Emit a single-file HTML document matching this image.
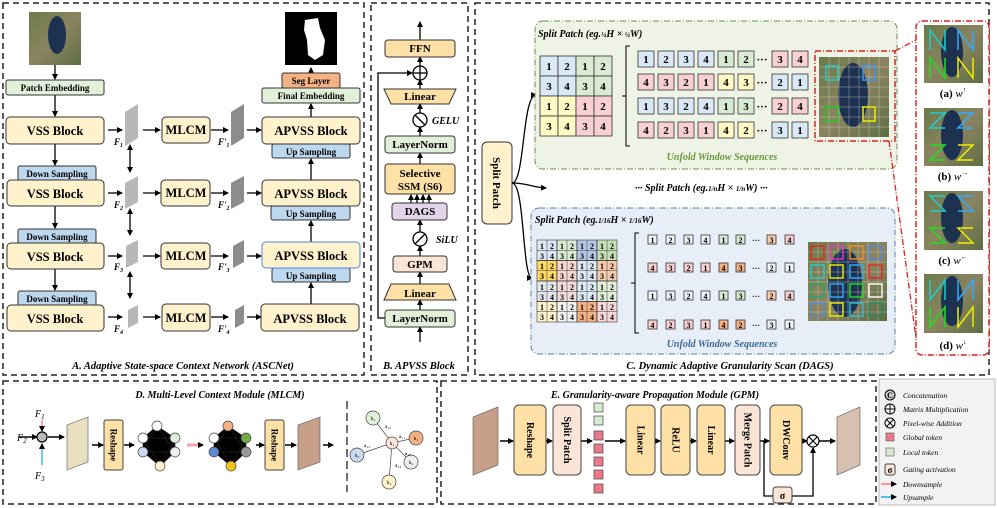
<!DOCTYPE html>
<html><head><meta charset="utf-8"><style>
html,body{margin:0;padding:0;background:#fff;}
svg{display:block;}
text{font-family:"Liberation Serif",serif;}
.b{font-weight:bold;}
.i{font-style:italic;font-weight:bold;}
</style></head><body>
<svg width="997" height="508" viewBox="0 0 997 508" xmlns="http://www.w3.org/2000/svg">
<defs>
<marker id="ah" markerWidth="6" markerHeight="6" refX="5" refY="3" orient="auto" markerUnits="userSpaceOnUse"><path d="M0,0 L6,3 L0,6 z" fill="#000"/></marker>
<marker id="ahs" markerWidth="6" markerHeight="6" refX="1" refY="3" orient="auto-start-reverse" markerUnits="userSpaceOnUse"><path d="M0,0 L6,3 L0,6 z" fill="#000"/></marker>
<linearGradient id="sat" x1="0" y1="0" x2="1" y2="1"><stop offset="0" stop-color="#6b7a4a"/><stop offset="0.5" stop-color="#8a8460"/><stop offset="1" stop-color="#5e6e42"/></linearGradient>
</defs>

<!-- Panel borders -->
<g fill="none" stroke="#222" stroke-width="1.5" stroke-dasharray="6,4">
<rect x="3" y="3" width="361" height="372"/>
<rect x="371" y="3" width="97" height="372"/>
<rect x="475" y="3" width="514" height="372"/>
<rect x="3" y="381" width="434" height="123"/>
<rect x="441" y="381" width="435" height="123"/>
</g>
<rect x="879" y="379" width="116" height="126" fill="#f2f2f2" stroke="#bbb"/>

<!-- ===== Panel A ===== -->
<rect x="29" y="12" width="52" height="53" fill="url(#sat)"/>
<ellipse cx="57" cy="35" rx="9" ry="19" fill="#1c3250"/>
<rect x="285" y="12" width="52" height="53" fill="#000"/>
<path d="M305,20 L318,18 L320,28 L325,40 L323,55 L315,60 L308,55 L307,40 L304,30 Z" fill="#fff"/>
<g stroke="#000" stroke-width="1.3" fill="none" marker-end="url(#ah)">
<line x1="55" y1="65" x2="55" y2="79"/>
<line x1="55" y1="95" x2="55" y2="116"/>
<line x1="55" y1="144" x2="55" y2="165"/>
<line x1="55" y1="206" x2="55" y2="228"/>
<line x1="55" y1="269" x2="55" y2="290"/>
<line x1="311" y1="88" x2="311" y2="68"/>
<line x1="311" y1="117" x2="311" y2="104"/>
<line x1="311" y1="180" x2="311" y2="159"/>
<line x1="311" y1="242" x2="311" y2="221"/>
<line x1="311" y1="304" x2="311" y2="283"/>
<line x1="108" y1="130" x2="122" y2="130"/>
<line x1="108" y1="193" x2="122" y2="193"/>
<line x1="108" y1="256" x2="122" y2="256"/>
<line x1="108" y1="317" x2="122" y2="317"/>
<line x1="143" y1="130" x2="160" y2="130"/>
<line x1="143" y1="193" x2="160" y2="193"/>
<line x1="143" y1="256" x2="160" y2="256"/>
<line x1="143" y1="317" x2="160" y2="317"/>
<line x1="211" y1="130" x2="228" y2="130"/>
<line x1="211" y1="193" x2="228" y2="193"/>
<line x1="211" y1="256" x2="228" y2="256"/>
<line x1="211" y1="317" x2="228" y2="317"/>
<line x1="247" y1="130" x2="261" y2="130"/>
<line x1="247" y1="193" x2="261" y2="193"/>
<line x1="247" y1="256" x2="261" y2="256"/>
<line x1="247" y1="317" x2="261" y2="317"/>
</g>
<g stroke="#000" stroke-width="1.3" marker-end="url(#ah)" marker-start="url(#ahs)">
<line x1="130" y1="149" x2="130" y2="172"/>
<line x1="130" y1="213" x2="130" y2="235"/>
<line x1="130" y1="276" x2="130" y2="298"/>
</g>
<!-- feature maps -->
<g fill="#b8b8b8">
<polygon points="125,112 138,104 138,138 125,146"/>
<polygon points="125,183 138,176 138,202 125,209"/>
<polygon points="126,246 138,240 138,262 126,268"/>
<polygon points="128,310 138,305 138,323 128,328"/>
</g>
<g fill="#8c8c8c">
<polygon points="231,112 244,104 244,138 231,146"/>
<polygon points="231,183 244,176 244,202 231,209"/>
<polygon points="233,246 244,240 244,262 233,268"/>
<polygon points="235,310 244,305 244,323 235,328"/>
</g>
<g class="i" font-size="9" font-style="italic">
<text x="114" y="145">F<tspan font-size="6" dy="2">1</tspan></text>
<text x="114" y="208">F<tspan font-size="6" dy="2">2</tspan></text>
<text x="114" y="270">F<tspan font-size="6" dy="2">3</tspan></text>
<text x="114" y="332">F<tspan font-size="6" dy="2">4</tspan></text>
<text x="218" y="145">F'<tspan font-size="6" dy="2">1</tspan></text>
<text x="218" y="208">F'<tspan font-size="6" dy="2">2</tspan></text>
<text x="218" y="270">F'<tspan font-size="6" dy="2">3</tspan></text>
<text x="218" y="332">F'<tspan font-size="6" dy="2">4</tspan></text>
</g>
<g stroke="#333" stroke-width="1">
<rect x="6" y="80" width="98" height="15" rx="2" fill="#e2efd9"/>
<rect x="18" y="166" width="78" height="15" rx="2" fill="#bdd7ee"/>
<rect x="18" y="229" width="78" height="15" rx="2" fill="#bdd7ee"/>
<rect x="18" y="291" width="78" height="15" rx="2" fill="#bdd7ee"/>
<rect x="6" y="117" width="98" height="27" rx="4" fill="#fff2cc"/>
<rect x="7" y="180" width="97" height="26" rx="4" fill="#fff2cc"/>
<rect x="7" y="243" width="97" height="26" rx="4" fill="#fff2cc"/>
<rect x="7" y="305" width="97" height="26" rx="4" fill="#fff2cc"/>
<rect x="162" y="117" width="48" height="26" rx="4" fill="#fff2cc"/>
<rect x="161" y="180" width="49" height="26" rx="4" fill="#fff2cc"/>
<rect x="161" y="243" width="49" height="26" rx="4" fill="#fff2cc"/>
<rect x="162" y="304" width="48" height="27" rx="4" fill="#fff2cc"/>
<rect x="272" y="144" width="78" height="14" rx="2" fill="#bdd7ee"/>
<rect x="271" y="206" width="79" height="14" rx="2" fill="#bdd7ee"/>
<rect x="272" y="268" width="78" height="14" rx="2" fill="#bdd7ee"/>
<rect x="262" y="117" width="98" height="27" rx="4" fill="#fff2cc"/>
<rect x="262" y="180" width="98" height="26" rx="4" fill="#fff2cc"/>
<rect x="262" y="242" width="98" height="26" rx="4" fill="#fff2cc" stroke="#4a86e8"/>
<rect x="261" y="304" width="98" height="27" rx="4" fill="#fff2cc"/>
<rect x="262" y="88" width="98" height="15" rx="2" fill="#e2efd9"/>
<rect x="282" y="73" width="58" height="15" rx="2" fill="#f4b183"/>
</g>
<g class="b" text-anchor="middle" font-size="9">
<text x="55" y="91">Patch Embedding</text>
<text x="57" y="177">Down Sampling</text>
<text x="57" y="240">Down Sampling</text>
<text x="57" y="302">Down Sampling</text>
<text x="311" y="155">Up Sampling</text>
<text x="311" y="217">Up Sampling</text>
<text x="311" y="279">Up Sampling</text>
<text x="311" y="99">Final Embedding</text>
<text x="311" y="84">Seg Layer</text>
</g>
<g class="b" text-anchor="middle" font-size="12.5">
<text x="55" y="135">VSS Block</text>
<text x="55" y="198">VSS Block</text>
<text x="55" y="261">VSS Block</text>
<text x="55" y="323">VSS Block</text>
<text x="186" y="134">MLCM</text>
<text x="186" y="197">MLCM</text>
<text x="186" y="260">MLCM</text>
<text x="186" y="322">MLCM</text>
<text x="311" y="135">APVSS Block</text>
<text x="311" y="198">APVSS Block</text>
<text x="311" y="260">APVSS Block</text>
<text x="310" y="323">APVSS Block</text>
</g>
<text x="183" y="369" class="i" font-size="10.5" text-anchor="middle">A. Adaptive State-space Context Network (ASCNet)</text>

<!-- ===== Panel B ===== -->
<g stroke="#000" stroke-width="1.3" fill="none" marker-end="url(#ah)">
<line x1="420" y1="40" x2="420" y2="22"/>
<line x1="420" y1="66" x2="420" y2="57"/>
<line x1="420" y1="89" x2="420" y2="80"/>
<line x1="420" y1="113" x2="420" y2="104"/>
<line x1="420" y1="136" x2="420" y2="127"/>
<line x1="420" y1="164" x2="420" y2="153"/>
<line x1="411" y1="203" x2="411" y2="195"/>
<line x1="417" y1="203" x2="417" y2="195"/>
<line x1="423" y1="203" x2="423" y2="195"/>
<line x1="429" y1="203" x2="429" y2="195"/>
<line x1="420" y1="232" x2="420" y2="220"/>
<line x1="420" y1="256" x2="420" y2="246"/>
<line x1="420" y1="284" x2="420" y2="272"/>
<line x1="420" y1="310" x2="420" y2="300"/>
<line x1="420" y1="342" x2="420" y2="327"/>
<polyline points="385,318 378,318 378,73 412,73"/>
</g>
<g stroke="#333" stroke-width="1">
<rect x="385" y="40" width="70" height="17" rx="3" fill="#ffe0a6"/>
<polygon points="384,89 456,89 449,104 391,104" fill="#ffe0a6"/>
<rect x="385" y="136" width="70" height="17" rx="3" fill="#e2efd9"/>
<rect x="385" y="164" width="70" height="30" rx="3" fill="#ffe0a6"/>
<rect x="392" y="203" width="55" height="17" rx="3" fill="#e1d5e7"/>
<rect x="393" y="256" width="54" height="16" rx="3" fill="#fbe5d6"/>
<polygon points="391,284 449,284 456,300 384,300" fill="#ffe0a6"/>
<rect x="385" y="310" width="70" height="17" rx="3" fill="#e2efd9"/>
</g>
<g stroke="#000" stroke-width="1.3" fill="#fff">
<circle cx="420" cy="73" r="7"/>
<circle cx="420" cy="120" r="7"/>
<circle cx="420" cy="239" r="7"/>
</g>
<g stroke="#000" stroke-width="1.3">
<line x1="413" y1="73" x2="427" y2="73"/><line x1="420" y1="66" x2="420" y2="80"/>
<line x1="415" y1="115" x2="425" y2="125"/>
<line x1="425" y1="234" x2="415" y2="244"/>
</g>
<g class="b" text-anchor="middle" font-size="11">
<text x="420" y="52">FFN</text>
<text x="420" y="100">Linear</text>
<text x="420" y="148">LayerNorm</text>
<text x="420" y="177">Selective</text>
<text x="420" y="190">SSM (S6)</text>
<text x="420" y="215">DAGS</text>
<text x="420" y="268">GPM</text>
<text x="420" y="297">Linear</text>
<text x="420" y="322">LayerNorm</text>
</g>
<text x="432" y="124" class="i" font-size="10">GELU</text>
<text x="436" y="243" class="i" font-size="10">SiLU</text>
<text x="419" y="369" class="i" font-size="10.5" text-anchor="middle">B. APVSS Block</text>

<!-- ===== Panel C ===== -->
<rect x="482" y="142" width="30" height="82" rx="5" fill="#fff2cc" stroke="#333"/>
<text x="497" y="183" class="b" font-size="11" text-anchor="middle" transform="rotate(90 497 183)" dy="4">Split Patch</text>
<g stroke="#000" stroke-width="1.3" fill="none" marker-end="url(#ah)">
<path d="M512,183 C525,183 522,95 536,95"/>
<path d="M512,183 C525,183 522,278 532,278"/>
<path d="M512,183 C528,183 530,187 546,188"/>
</g>
<rect x="535" y="21" width="362" height="148" rx="8" fill="#eef3e6" stroke="#6a8f4a" stroke-dasharray="6,2,1,2"/>
<rect x="531" y="208" width="364" height="146" rx="8" fill="#e8eef8" stroke="#5a7faa" stroke-dasharray="6,2,1,2"/>
<text x="538" y="37" class="i" font-size="10">Split Patch (eg.<tspan font-size="7">¼</tspan>H × <tspan font-size="7">¼</tspan>W)</text>
<text x="535" y="223" class="i" font-size="10">Split Patch (eg.<tspan font-size="7">1/16</tspan>H × <tspan font-size="7">1/16</tspan>W)</text>
<text x="635" y="191" class="i" font-size="10">··· Split Patch (eg.<tspan font-size="7">1/n</tspan>H × <tspan font-size="7">1/n</tspan>W) ···</text>
<text x="722" y="160" class="i" font-size="10" fill="#6a9a3a" text-anchor="middle">Unfold Window Sequences</text>
<text x="722" y="347" class="i" font-size="10" fill="#3a6a9a" text-anchor="middle">Unfold Window Sequences</text>

<!-- top 4x4 grid -->
<g stroke="#333" stroke-width="0.8">
<rect x="540" y="56" width="18" height="20" fill="#dae8f5"/><rect x="558" y="56" width="18" height="20" fill="#dae8f5"/><rect x="576" y="56" width="18" height="20" fill="#d9ead3"/><rect x="594" y="56" width="18" height="20" fill="#d9ead3"/>
<rect x="540" y="76" width="18" height="20" fill="#dae8f5"/><rect x="558" y="76" width="18" height="20" fill="#dae8f5"/><rect x="576" y="76" width="18" height="20" fill="#d9ead3"/><rect x="594" y="76" width="18" height="20" fill="#d9ead3"/>
<rect x="540" y="96" width="18" height="20" fill="#fff9c4"/><rect x="558" y="96" width="18" height="20" fill="#fff9c4"/><rect x="576" y="96" width="18" height="20" fill="#f8d0d0"/><rect x="594" y="96" width="18" height="20" fill="#f8d0d0"/>
<rect x="540" y="116" width="18" height="20" fill="#fff9c4"/><rect x="558" y="116" width="18" height="20" fill="#fff9c4"/><rect x="576" y="116" width="18" height="20" fill="#f8d0d0"/><rect x="594" y="116" width="18" height="20" fill="#f8d0d0"/>
</g>
<g class="b" font-size="11" text-anchor="middle">
<text x="549" y="70">1</text><text x="567" y="70">2</text><text x="585" y="70">1</text><text x="603" y="70">2</text>
<text x="549" y="90">3</text><text x="567" y="90">4</text><text x="585" y="90">3</text><text x="603" y="90">4</text>
<text x="549" y="110">1</text><text x="567" y="110">2</text><text x="585" y="110">1</text><text x="603" y="110">2</text>
<text x="549" y="130">3</text><text x="567" y="130">4</text><text x="585" y="130">3</text><text x="603" y="130">4</text>
</g>
<path d="M630,46 L626,46 L626,146 L630,146 M626,96 L622,96" stroke="#000" fill="none"/>
<path d="M639,233 L635,233 L635,333 L639,333 M635,283 L631,283" stroke="#000" fill="none"/>

<!-- top seq rows -->
<g stroke="#333" stroke-width="0.8">
<rect x="638" y="51" width="16" height="16" fill="#dae8f5"/><rect x="658" y="51" width="16" height="16" fill="#dae8f5"/><rect x="678" y="51" width="16" height="16" fill="#dae8f5"/><rect x="698" y="51" width="16" height="16" fill="#dae8f5"/><rect x="718" y="51" width="16" height="16" fill="#d9ead3"/><rect x="738" y="51" width="16" height="16" fill="#d9ead3"/><rect x="772" y="51" width="16" height="16" fill="#f8d0d0"/><rect x="792" y="51" width="16" height="16" fill="#f8d0d0"/>
<rect x="638" y="74" width="16" height="16" fill="#f8d0d0"/><rect x="658" y="74" width="16" height="16" fill="#f8d0d0"/><rect x="678" y="74" width="16" height="16" fill="#f8d0d0"/><rect x="698" y="74" width="16" height="16" fill="#f8d0d0"/><rect x="718" y="74" width="16" height="16" fill="#fff9c4"/><rect x="738" y="74" width="16" height="16" fill="#fff9c4"/><rect x="772" y="74" width="16" height="16" fill="#dae8f5"/><rect x="792" y="74" width="16" height="16" fill="#dae8f5"/>
<rect x="638" y="98" width="16" height="16" fill="#dae8f5"/><rect x="658" y="98" width="16" height="16" fill="#dae8f5"/><rect x="678" y="98" width="16" height="16" fill="#dae8f5"/><rect x="698" y="98" width="16" height="16" fill="#dae8f5"/><rect x="718" y="98" width="16" height="16" fill="#d9ead3"/><rect x="738" y="98" width="16" height="16" fill="#d9ead3"/><rect x="772" y="98" width="16" height="16" fill="#f8d0d0"/><rect x="792" y="98" width="16" height="16" fill="#f8d0d0"/>
<rect x="638" y="122" width="16" height="16" fill="#f8d0d0"/><rect x="658" y="122" width="16" height="16" fill="#f8d0d0"/><rect x="678" y="122" width="16" height="16" fill="#f8d0d0"/><rect x="698" y="122" width="16" height="16" fill="#f8d0d0"/><rect x="718" y="122" width="16" height="16" fill="#fff9c4"/><rect x="738" y="122" width="16" height="16" fill="#fff9c4"/><rect x="772" y="122" width="16" height="16" fill="#dae8f5"/><rect x="792" y="122" width="16" height="16" fill="#dae8f5"/>
</g>
<g class="b" font-size="11" text-anchor="middle">
<text x="646" y="63">1</text><text x="666" y="63">2</text><text x="686" y="63">3</text><text x="706" y="63">4</text><text x="726" y="63">1</text><text x="746" y="63">2</text><text x="762" y="63">···</text><text x="780" y="63">3</text><text x="800" y="63">4</text>
<text x="646" y="86">4</text><text x="666" y="86">3</text><text x="686" y="86">2</text><text x="706" y="86">1</text><text x="726" y="86">4</text><text x="746" y="86">3</text><text x="762" y="86">···</text><text x="780" y="86">2</text><text x="800" y="86">1</text>
<text x="646" y="110">1</text><text x="666" y="110">3</text><text x="686" y="110">2</text><text x="706" y="110">4</text><text x="726" y="110">1</text><text x="746" y="110">3</text><text x="762" y="110">···</text><text x="780" y="110">2</text><text x="800" y="110">4</text>
<text x="646" y="134">4</text><text x="666" y="134">2</text><text x="686" y="134">3</text><text x="706" y="134">1</text><text x="726" y="134">4</text><text x="746" y="134">2</text><text x="762" y="134">···</text><text x="780" y="134">3</text><text x="800" y="134">1</text>
</g>

<!-- bottom 8x8 grid -->
<g stroke="#333" stroke-width="0.6">
<rect x="537" y="240" width="20" height="20.5" fill="#dce9f5"/><rect x="557" y="240" width="20" height="20.5" fill="#d9ead3"/><rect x="577" y="240" width="20" height="20.5" fill="#b4c7e7"/><rect x="597" y="240" width="20" height="20.5" fill="#c5e0b4"/>
<rect x="537" y="260.5" width="20" height="20.5" fill="#ffd966"/><rect x="557" y="260.5" width="20" height="20.5" fill="#f8d7d0"/><rect x="577" y="260.5" width="20" height="20.5" fill="#dce9f5"/><rect x="597" y="260.5" width="20" height="20.5" fill="#f8cbad"/>
<rect x="537" y="281" width="20" height="20.5" fill="#e4e8ee"/><rect x="557" y="281" width="20" height="20.5" fill="#f2dcdb"/><rect x="577" y="281" width="20" height="20.5" fill="#ddebf7"/><rect x="597" y="281" width="20" height="20.5" fill="#e2efd9"/>
<rect x="537" y="301.5" width="20" height="20.5" fill="#fff2cc"/><rect x="557" y="301.5" width="20" height="20.5" fill="#f2f2f2"/><rect x="577" y="301.5" width="20" height="20.5" fill="#f4b183"/><rect x="597" y="301.5" width="20" height="20.5" fill="#f8d7da"/>
</g>
<g stroke="#333" stroke-width="0.5">
<path d="M547,240V322M557,240V322M567,240V322M577,240V322M587,240V322M597,240V322M607,240V322M537,250.25H617M537,260.5H617M537,270.75H617M537,281H617M537,291.25H617M537,301.5H617M537,311.75H617"/>
</g>
<g class="b" font-size="8" text-anchor="middle">
<text x="542" y="249">1</text><text x="552" y="249">2</text><text x="562" y="249">1</text><text x="572" y="249">2</text><text x="582" y="249">1</text><text x="592" y="249">2</text><text x="602" y="249">1</text><text x="612" y="249">2</text>
<text x="542" y="259">3</text><text x="552" y="259">4</text><text x="562" y="259">3</text><text x="572" y="259">4</text><text x="582" y="259">3</text><text x="592" y="259">4</text><text x="602" y="259">3</text><text x="612" y="259">4</text>
<text x="542" y="269">1</text><text x="552" y="269">2</text><text x="562" y="269">1</text><text x="572" y="269">2</text><text x="582" y="269">1</text><text x="592" y="269">2</text><text x="602" y="269">1</text><text x="612" y="269">2</text>
<text x="542" y="279">3</text><text x="552" y="279">4</text><text x="562" y="279">3</text><text x="572" y="279">4</text><text x="582" y="279">3</text><text x="592" y="279">4</text><text x="602" y="279">3</text><text x="612" y="279">4</text>
<text x="542" y="290">1</text><text x="552" y="290">2</text><text x="562" y="290">1</text><text x="572" y="290">2</text><text x="582" y="290">1</text><text x="592" y="290">2</text><text x="602" y="290">1</text><text x="612" y="290">2</text>
<text x="542" y="300">3</text><text x="552" y="300">4</text><text x="562" y="300">3</text><text x="572" y="300">4</text><text x="582" y="300">3</text><text x="592" y="300">4</text><text x="602" y="300">3</text><text x="612" y="300">4</text>
<text x="542" y="310">1</text><text x="552" y="310">2</text><text x="562" y="310">1</text><text x="572" y="310">2</text><text x="582" y="310">1</text><text x="592" y="310">2</text><text x="602" y="310">1</text><text x="612" y="310">2</text>
<text x="542" y="320">3</text><text x="552" y="320">4</text><text x="562" y="320">3</text><text x="572" y="320">4</text><text x="582" y="320">3</text><text x="592" y="320">4</text><text x="602" y="320">3</text><text x="612" y="320">4</text>
</g>

<!-- bottom seq rows -->
<g stroke="#333" stroke-width="0.8">
<rect x="648" y="235" width="9" height="9" fill="#eef3f8"/><rect x="666" y="235" width="9" height="9" fill="#eef3f8"/><rect x="684" y="235" width="9" height="9" fill="#eef3f8"/><rect x="701" y="235" width="9" height="9" fill="#eef3f8"/><rect x="719" y="235" width="9" height="9" fill="#d9ead3"/><rect x="736" y="235" width="9" height="9" fill="#d9ead3"/><rect x="767" y="235" width="9" height="9" fill="#f8cbad"/><rect x="785" y="235" width="9" height="9" fill="#f8d0d0"/>
<rect x="648" y="263" width="9" height="9" fill="#f8d0d0"/><rect x="666" y="263" width="9" height="9" fill="#f8d0d0"/><rect x="684" y="263" width="9" height="9" fill="#f8d0d0"/><rect x="701" y="263" width="9" height="9" fill="#f8d0d0"/><rect x="719" y="263" width="9" height="9" fill="#f4b183"/><rect x="736" y="263" width="9" height="9" fill="#f4b183"/><rect x="767" y="263" width="9" height="9" fill="#eef3f8"/><rect x="785" y="263" width="9" height="9" fill="#eef3f8"/>
<rect x="648" y="291" width="9" height="9" fill="#eef3f8"/><rect x="666" y="291" width="9" height="9" fill="#eef3f8"/><rect x="684" y="291" width="9" height="9" fill="#eef3f8"/><rect x="701" y="291" width="9" height="9" fill="#eef3f8"/><rect x="719" y="291" width="9" height="9" fill="#d9ead3"/><rect x="736" y="291" width="9" height="9" fill="#d9ead3"/><rect x="767" y="291" width="9" height="9" fill="#f8cbad"/><rect x="785" y="291" width="9" height="9" fill="#f8d0d0"/>
<rect x="648" y="320" width="9" height="9" fill="#f8d0d0"/><rect x="666" y="320" width="9" height="9" fill="#f8d0d0"/><rect x="684" y="320" width="9" height="9" fill="#f8d0d0"/><rect x="701" y="320" width="9" height="9" fill="#f8d0d0"/><rect x="719" y="320" width="9" height="9" fill="#f4b183"/><rect x="736" y="320" width="9" height="9" fill="#f4b183"/><rect x="767" y="320" width="9" height="9" fill="#eef3f8"/><rect x="785" y="320" width="9" height="9" fill="#eef3f8"/>
</g>
<g class="b" font-size="8" text-anchor="middle">
<text x="652.5" y="243">1</text><text x="670.5" y="243">2</text><text x="688.5" y="243">3</text><text x="705.5" y="243">4</text><text x="723.5" y="243">1</text><text x="740.5" y="243">2</text><text x="756" y="243">···</text><text x="771.5" y="243">3</text><text x="789.5" y="243">4</text>
<text x="652.5" y="271">4</text><text x="670.5" y="271">3</text><text x="688.5" y="271">2</text><text x="705.5" y="271">1</text><text x="723.5" y="271">4</text><text x="740.5" y="271">3</text><text x="756" y="271">···</text><text x="771.5" y="271">2</text><text x="789.5" y="271">1</text>
<text x="652.5" y="299">1</text><text x="670.5" y="299">3</text><text x="688.5" y="299">2</text><text x="705.5" y="299">4</text><text x="723.5" y="299">1</text><text x="740.5" y="299">3</text><text x="756" y="299">···</text><text x="771.5" y="299">2</text><text x="789.5" y="299">4</text>
<text x="652.5" y="328">4</text><text x="670.5" y="328">2</text><text x="688.5" y="328">3</text><text x="705.5" y="328">1</text><text x="723.5" y="328">4</text><text x="740.5" y="328">2</text><text x="756" y="328">···</text><text x="771.5" y="328">3</text><text x="789.5" y="328">1</text>
</g>

<!-- satellite images in C -->
<rect x="819" y="57" width="70" height="80" fill="url(#sat)"/>
<ellipse cx="853" cy="95" rx="15" ry="32" fill="#1c3250"/>
<g stroke="#ddd" stroke-width="0.5" opacity="0.7"><path d="M829,57V137M839,57V137M849,57V137M859,57V137M869,57V137M879,57V137M819,67H889M819,77H889M819,87H889M819,97H889M819,107H889M819,117H889M819,127H889"/></g>
<rect x="826" y="66" width="12" height="14" fill="none" stroke="#2cc" stroke-width="1.5"/>
<rect x="863" y="66" width="12" height="14" fill="none" stroke="#39f" stroke-width="1.5"/>
<rect x="826" y="107" width="12" height="14" fill="none" stroke="#2c2" stroke-width="1.5"/>
<rect x="863" y="107" width="12" height="14" fill="none" stroke="#ee0" stroke-width="1.5"/>
<rect x="815" y="51" width="80" height="90" fill="none" stroke="#d22" stroke-width="1.5" stroke-dasharray="6,2,1,2"/>

<rect x="808" y="242" width="79" height="79" fill="url(#sat)"/>
<ellipse cx="845" cy="283" rx="17" ry="34" fill="#1c3250"/>
<g stroke="#ddd" stroke-width="0.5" opacity="0.7"><path d="M818,242V321M828,242V321M838,242V321M848,242V321M858,242V321M868,242V321M878,242V321M808,252H887M808,262H887M808,272H887M808,282H887M808,292H887M808,302H887M808,312H887"/></g>
<g fill="none" stroke-width="1.4">
<rect x="811" y="246" width="13" height="13" stroke="#e22"/><rect x="830" y="246" width="13" height="13" stroke="#e3c"/><rect x="850" y="246" width="13" height="13" stroke="#f82"/><rect x="869" y="246" width="13" height="13" stroke="#58d"/>
<rect x="811" y="265" width="13" height="13" stroke="#2cc"/><rect x="830" y="265" width="13" height="13" stroke="#ee0"/><rect x="850" y="265" width="13" height="13" stroke="#3af"/><rect x="869" y="265" width="13" height="13" stroke="#e22"/>
<rect x="811" y="284" width="13" height="13" stroke="#2a6"/><rect x="830" y="284" width="13" height="13" stroke="#3af"/><rect x="850" y="284" width="13" height="13" stroke="#2d2"/><rect x="869" y="284" width="13" height="13" stroke="#fff"/>
<rect x="811" y="303" width="13" height="13" stroke="#58d"/><rect x="830" y="303" width="13" height="13" stroke="#ee0"/><rect x="850" y="303" width="13" height="13" stroke="#3bd"/><rect x="869" y="303" width="13" height="13" stroke="#286"/>
</g>

<!-- red callout -->
<rect x="916" y="21" width="73" height="334" rx="6" fill="#fff" stroke="#d22" stroke-width="1.5" stroke-dasharray="6,2,1,2"/>
<g stroke="#d22" stroke-width="1.3" stroke-dasharray="6,2,1,2" fill="none">
<line x1="895" y1="51" x2="916" y2="40"/>
<line x1="889" y1="141" x2="916" y2="338"/>
</g>
<g>
<rect x="924" y="25" width="59" height="58" fill="url(#sat)"/><ellipse cx="952" cy="52" rx="11" ry="25" fill="#1c3250"/>
<rect x="924" y="108" width="59" height="58" fill="url(#sat)"/><ellipse cx="952" cy="135" rx="11" ry="25" fill="#1c3250"/>
<rect x="924" y="191" width="59" height="59" fill="url(#sat)"/><ellipse cx="952" cy="218" rx="11" ry="25" fill="#1c3250"/>
<rect x="924" y="274" width="59" height="59" fill="url(#sat)"/><ellipse cx="952" cy="301" rx="11" ry="25" fill="#1c3250"/>
</g>
<g fill="none" stroke-width="1.5">
<path d="M930,50 V30 L945,50 V30" stroke="#2cc"/><path d="M958,50 V30 L973,50 V30" stroke="#3af"/>
<path d="M930,78 V58 L945,78 V58" stroke="#2d2"/><path d="M958,78 V58 L973,78 V58" stroke="#ee0"/>
<path d="M930,113 H945 L930,128 H945" stroke="#2cc"/><path d="M958,113 H973 L958,128 H973" stroke="#3af"/>
<path d="M930,145 H945 L930,160 H945" stroke="#2d2"/><path d="M958,145 H973 L958,160 H973" stroke="#ee0"/>
<path d="M945,196 H930 L945,211 H930" stroke="#2cc"/><path d="M973,196 H958 L973,211 H958" stroke="#3af"/>
<path d="M945,228 H930 L945,243 H930" stroke="#2d2"/><path d="M973,228 H958 L973,243 H958" stroke="#ee0"/>
<path d="M930,280 V300 L945,280 V300" stroke="#2cc"/><path d="M958,280 V300 L973,280 V300" stroke="#3af"/>
<path d="M930,307 V327 L945,307 V327" stroke="#2d2"/><path d="M958,307 V327 L973,307 V327" stroke="#ee0"/>
</g>
<g class="b" font-size="11" text-anchor="middle">
<text x="953" y="97">(a) <tspan font-style="italic" font-weight="normal">w</tspan><tspan font-size="7" dy="-5">↑</tspan></text>
<text x="953" y="180">(b) <tspan font-style="italic" font-weight="normal">w</tspan><tspan font-size="7" dy="-5">→</tspan></text>
<text x="953" y="264">(c) <tspan font-style="italic" font-weight="normal">w</tspan><tspan font-size="7" dy="-5">←</tspan></text>
<text x="953" y="349">(d) <tspan font-style="italic" font-weight="normal">w</tspan><tspan font-size="7" dy="-5">↓</tspan></text>
</g>
<text x="730" y="369" class="i" font-size="10.5" text-anchor="middle">C. Dynamic Adaptive Granularity Scan (DAGS)</text>

<!-- ===== Panel D ===== -->
<text x="220" y="398" class="i" font-size="10" text-anchor="middle">D. Multi-Level Context Module (MLCM)</text>
<g font-style="italic" font-size="10">
<text x="35" y="417">F<tspan font-size="7" dy="2">1</tspan></text>
<text x="17" y="441">F<tspan font-size="7" dy="2">2</tspan></text>
<text x="35" y="479">F<tspan font-size="7" dy="2">3</tspan></text>
</g>
<line x1="42" y1="420" x2="42" y2="431" stroke="#f77" stroke-width="1.3" marker-end="url(#ah)"/>
<line x1="42" y1="465" x2="42" y2="444" stroke="#1ab0e8" stroke-width="1.3" marker-end="url(#ah)"/>
<g stroke="#000" stroke-width="1.5" marker-end="url(#ah)">
<line x1="19" y1="437" x2="37" y2="437"/>
<line x1="48" y1="437" x2="64" y2="437"/>
<line x1="92" y1="445" x2="103" y2="445"/>
<line x1="124" y1="445" x2="134" y2="445"/>
<line x1="256" y1="445" x2="264" y2="445"/>
<line x1="285" y1="445" x2="296" y2="445"/>
<line x1="323" y1="445" x2="333" y2="445"/>
</g>
<circle cx="42" cy="437" r="5" fill="#bbb" stroke="#000" stroke-width="1.2"/>
<polygon points="67,425 88,417 88,462 67,470" fill="#e8e0c0" stroke="#555" stroke-width="0.6"/>
<polygon points="298,425 320,417 320,462 298,470" fill="#c8a08a" stroke="#555" stroke-width="0.6"/>
<rect x="104" y="420" width="19" height="50" rx="2" fill="#ffe0a6" stroke="#444"/>
<rect x="265" y="420" width="19" height="50" rx="2" fill="#ffe0a6" stroke="#444"/>
<text x="113.5" y="445" class="b" font-size="9" text-anchor="middle" transform="rotate(90 113.5 445)" dy="3">Reshape</text>
<text x="274.5" y="445" class="b" font-size="9" text-anchor="middle" transform="rotate(90 274.5 445)" dy="3">Reshape</text>
<line x1="187" y1="445" x2="203" y2="445" stroke="#f4a0a8" stroke-width="3" marker-end="url(#ah)"/>
<!-- graphs -->
<g stroke="#222" stroke-width="0.7">
<path d="M157,426 L143,438 L143,452 L160,466 L175,452 L175,438 Z M157,426 L175,452 M157,426 L143,452 M143,438 L175,438 M143,438 L160,466 M175,438 L160,466 M143,452 L175,452"/>
<path d="M228,426 L214,438 L214,452 L231,466 L246,452 L246,438 Z M228,426 L246,452 M228,426 L214,452 M214,438 L246,438 M214,438 L231,466 M246,438 L231,466 M214,452 L246,452"/>
</g>
<g stroke="#444" stroke-width="0.7">
<circle cx="157" cy="426" r="5" fill="#fff"/><circle cx="143" cy="438" r="5" fill="#fff"/><circle cx="175" cy="438" r="5" fill="#e2efd9"/><circle cx="143" cy="452" r="5" fill="#c9d9f0"/><circle cx="175" cy="452" r="5" fill="#eee"/><circle cx="160" cy="466" r="5" fill="#fff2cc"/>
<circle cx="228" cy="426" r="5" fill="#f4b183"/><circle cx="214" cy="438" r="5" fill="#fff"/><circle cx="246" cy="438" r="5" fill="#70ad47"/><circle cx="214" cy="452" r="5" fill="#5b8bd6"/><circle cx="246" cy="452" r="5" fill="#999"/><circle cx="231" cy="466" r="5" fill="#f5c518"/>
</g>
<line x1="347" y1="401" x2="347" y2="492" stroke="#222" stroke-width="1.3" stroke-dasharray="8,4"/>
<g stroke="#444" stroke-width="0.7">
<line x1="392" y1="443" x2="373" y2="418"/><line x1="392" y1="443" x2="415" y2="438"/><line x1="392" y1="443" x2="357" y2="455"/><line x1="392" y1="443" x2="389" y2="482"/><line x1="392" y1="443" x2="411" y2="462"/>
<circle cx="392" cy="443" r="6" fill="#fbe5d6"/>
<circle cx="373" cy="418" r="7" fill="#e2efd9"/><circle cx="416" cy="438" r="7" fill="#f4b183"/><circle cx="357" cy="455" r="7" fill="#c9d9f0"/><circle cx="389" cy="482" r="7" fill="#fff2cc"/><circle cx="411" cy="462" r="7" fill="#eee"/>
</g>
<g font-size="5.5" text-anchor="middle">
<text x="392" y="445">h₁</text><text x="373" y="420">h₂</text><text x="416" y="440">h₁</text><text x="357" y="457">h₃</text><text x="389" y="484">h₄</text><text x="411" y="464">h₅</text>
<text x="388" y="428">a₁₂</text><text x="367" y="447">a₁₃</text><text x="408" y="455">a₁₅</text><text x="398" y="467">a₁₄</text><text x="402" y="438">a₁₁</text>
</g>

<!-- ===== Panel E ===== -->
<text x="655" y="398" class="i" font-size="10" text-anchor="middle">E. Granularity-aware Propagation Module (GPM)</text>
<polygon points="473,417 498,407 498,465 473,475" fill="#c8a08a" stroke="#555" stroke-width="0.6"/>
<polygon points="837,417 860,407 860,465 837,475" fill="#d8c0b0" stroke="#555" stroke-width="0.6"/>
<g stroke="#000" stroke-width="1.5" marker-end="url(#ah)">
<line x1="500" y1="441" x2="513" y2="441"/>
<line x1="546" y1="441" x2="552" y2="441"/>
<line x1="581" y1="441" x2="592" y2="441"/>
<line x1="605" y1="441" x2="625" y2="441"/>
<line x1="655" y1="441" x2="660" y2="441"/>
<line x1="690" y1="441" x2="696" y2="441"/>
<line x1="725" y1="441" x2="734" y2="441"/>
<line x1="760" y1="441" x2="769" y2="441"/>
<line x1="802" y1="441" x2="807" y2="441"/>
<line x1="819" y1="441" x2="835" y2="441"/>
</g>
<polyline points="764,441 764,496 773,496" stroke="#000" stroke-width="1.3" fill="none"/>
<polyline points="792,496 813,496 813,448" stroke="#000" stroke-width="1.3" fill="none" marker-end="url(#ah)"/>
<g stroke="#444">
<rect x="514" y="405" width="32" height="70" rx="5" fill="#ffe0a6"/>
<rect x="553" y="405" width="28" height="70" rx="5" fill="#fbe5d6"/>
<rect x="626" y="405" width="29" height="70" rx="5" fill="#ffe0a6"/>
<rect x="661" y="405" width="29" height="70" rx="5" fill="#ffe0a6"/>
<rect x="697" y="405" width="28" height="70" rx="5" fill="#ffe0a6"/>
<rect x="735" y="405" width="25" height="70" rx="5" fill="#fbe5d6"/>
<rect x="770" y="405" width="32" height="70" rx="5" fill="#ffe0a6"/>
<rect x="773" y="487" width="19" height="16" rx="3" fill="#fbe5d6"/>
</g>
<g stroke="#444" stroke-width="0.7">
<rect x="594" y="403" width="9" height="9" fill="#d9ead3"/><rect x="594" y="416" width="9" height="9" fill="#d9ead3"/>
<rect x="594" y="431" width="9" height="9" fill="#ea7a8a"/><rect x="594" y="444" width="9" height="9" fill="#ea7a8a"/><rect x="594" y="457" width="9" height="9" fill="#ea7a8a"/><rect x="594" y="470" width="9" height="9" fill="#ea7a8a"/><rect x="594" y="484" width="9" height="9" fill="#ea7a8a"/>
</g>
<g class="b" font-size="10" text-anchor="middle">
<text transform="translate(530,440) rotate(90)" dy="3">Reshape</text>
<text transform="translate(567,440) rotate(90)" dy="3">Split Patch</text>
<text transform="translate(640.5,440) rotate(90)" dy="3">Linear</text>
<text transform="translate(675.5,440) rotate(90)" dy="3">ReLU</text>
<text transform="translate(711,440) rotate(90)" dy="3">Linear</text>
<text transform="translate(747.5,440) rotate(90)" dy="3">Merge Patch</text>
<text transform="translate(786,440) rotate(90)" dy="3">DWConv</text>
<text x="782.5" y="499">σ</text>
</g>
<circle cx="813" cy="441" r="6" fill="#fff" stroke="#000" stroke-width="1.2"/>
<path d="M809,437 L817,445 M817,437 L809,445" stroke="#000" stroke-width="1.2"/>

<!-- Legend -->
<g stroke="#000" stroke-width="1" fill="#fff">
<circle cx="890" cy="395" r="5" fill="#ccc"/>
<circle cx="890" cy="409" r="5"/>
<circle cx="890" cy="423" r="5"/>
</g>
<text x="890" y="398" font-size="8" text-anchor="middle" class="b">C</text>
<path d="M885,409H895M890,404V414M886.5,419.5L893.5,426.5M893.5,419.5L886.5,426.5" stroke="#000"/>
<rect x="886" y="433" width="8" height="8" fill="#ea7a8a" stroke="#555" stroke-width="0.6"/>
<rect x="886" y="448" width="8" height="8" fill="#d9ead3" stroke="#555" stroke-width="0.6"/>
<rect x="885" y="464" width="10" height="11" rx="2" fill="#fbe5d6" stroke="#444"/>
<text x="890" y="473" font-size="9" class="b" text-anchor="middle">σ</text>
<line x1="881" y1="484" x2="896" y2="484" stroke="#f77" stroke-width="1.5" marker-end="url(#ah)"/>
<line x1="881" y1="497" x2="896" y2="497" stroke="#1ab0e8" stroke-width="1.5" marker-end="url(#ah)"/>
<g font-style="italic" font-size="7.5">
<text x="903" y="398">Concatenation</text>
<text x="903" y="412">Matrix Multiplication</text>
<text x="903" y="426">Pixel-wise Addition</text>
<text x="903" y="440">Global token</text>
<text x="903" y="455">Local token</text>
<text x="903" y="472">Gating activation</text>
<text x="903" y="487">Downsample</text>
<text x="903" y="500">Upsample</text>
</g>
</svg>
</body></html>
